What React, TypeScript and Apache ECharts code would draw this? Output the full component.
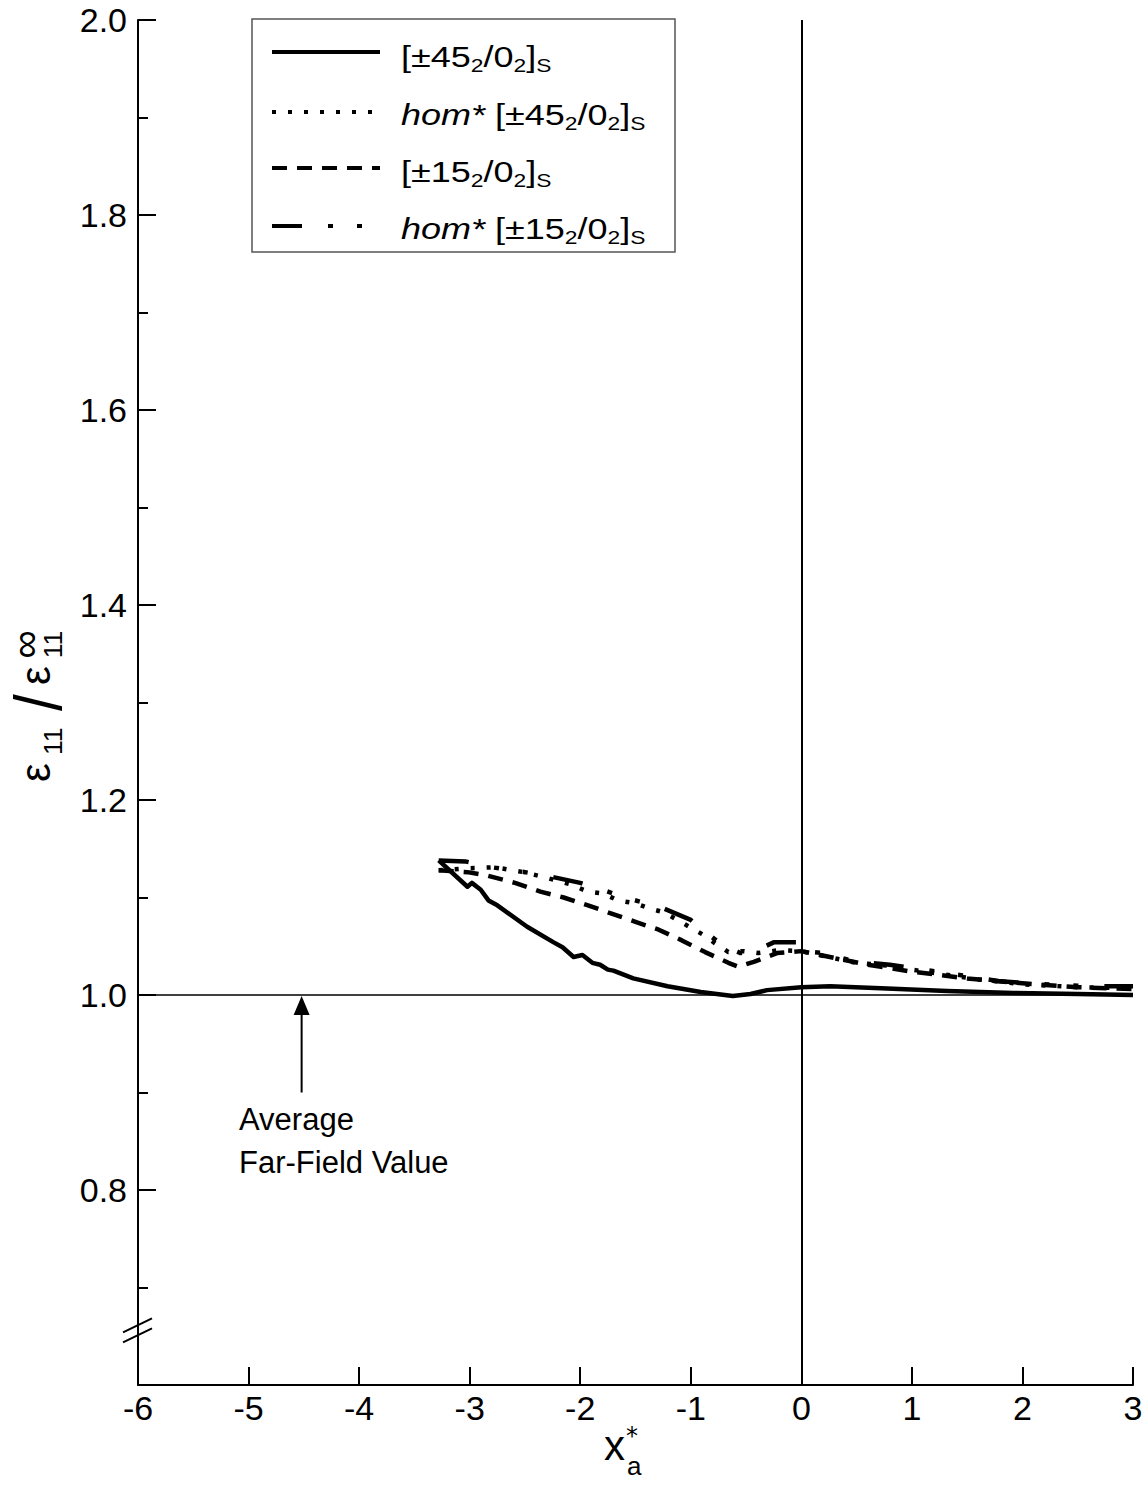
import React, { useEffect, useRef } from "react";
import * as echarts from "echarts";

// Axis ranges and ticks
const X_MIN = -6;
const X_MAX = 3;
const X_STEP = 1;
const Y_MIN = 0.6;
const Y_MAX = 2.0;
const Y_STEP = 0.2;

// [±45₂/0₂]S laminate
const lam45X = [-3.28, -3.02, -2.98, -2.9, -2.83, -2.75, -2.48, -2.24, -2.16, -2.06, -1.98, -1.89, -1.82, -1.75, -1.7, -1.52, -1.21, -0.91, -0.62, -0.46, -0.31, 0, 0.26, 0.72, 1.32, 1.92, 2.5, 3.0];
const lam45Y = [1.138, 1.111, 1.115, 1.108, 1.097, 1.092, 1.07, 1.054, 1.049, 1.039, 1.041, 1.033, 1.031, 1.026, 1.025, 1.017, 1.009, 1.003, 0.999, 1.001, 1.005, 1.008, 1.009, 1.007, 1.004, 1.002, 1.001, 1.0];

// hom* [±45₂/0₂]S
const hom45X = [-3.28, -3.0, -2.77, -2.51, -2.3, -2.1, -1.93, -1.79, -1.66, -1.5, -1.38, -1.25, -1.12, -1.0, -0.89, -0.78, -0.66, -0.52, -0.39, -0.2, 0, 0.2, 0.5, 0.8, 1.0, 1.3, 1.6, 2.0, 2.5, 3.0];
const hom45Y = [1.128, 1.13, 1.131, 1.126, 1.12, 1.114, 1.106, 1.104, 1.097, 1.094, 1.089, 1.085, 1.077, 1.069, 1.062, 1.053, 1.044, 1.045, 1.043, 1.046, 1.045, 1.04, 1.033, 1.03, 1.026, 1.021, 1.016, 1.011, 1.008, 1.007];

// [±15₂/0₂]S laminate
const lam15X = [-3.28, -3.02, -2.86, -2.59, -2.36, -2.15, -1.93, -1.73, -1.5, -1.29, -1.08, -0.87, -0.66, -0.57, -0.43, -0.22, 0, 0.3, 0.6, 1.0, 1.5, 2.0, 2.5, 3.0];
const lam15Y = [1.128, 1.126, 1.123, 1.115, 1.106, 1.1, 1.092, 1.084, 1.075, 1.067, 1.056, 1.044, 1.033, 1.029, 1.034, 1.043, 1.045, 1.038, 1.031, 1.024, 1.017, 1.012, 1.008, 1.006];

// hom* [±15₂/0₂]S
const hom15X = [-3.28, -3.04, -2.8, -2.5, -2.25, -2.0, -1.8, -1.6, -1.4, -1.25, -1.0, -0.85, -0.7, -0.55, -0.4, -0.25, -0.01, 0.01, 0.2, 0.5, 0.8, 1.1, 1.4, 1.8, 2.2, 2.6, 3.0];
const hom15Y = [1.138, 1.137, 1.131, 1.126, 1.121, 1.115, 1.108, 1.1, 1.094, 1.089, 1.077, 1.063, 1.05, 1.043, 1.046, 1.054, 1.054, 1.045, 1.043, 1.034, 1.031, 1.026, 1.021, 1.014, 1.011, 1.009, 1.009];

// Reference levels and annotation
const farFieldValue = 1.0;
const originX = 0;
const arrowX = -4.52;
const arrowTailY = 0.9;
const breakY = 0.656;
const annotationLines = ["Average", "Far-Field Value"];

const FONT = '"Liberation Sans", Arial, Helvetica, sans-serif';
const FONT_WIDE = '"DejaVu Sans", sans-serif';

const seriesDefs = [
  { name: "lam45", xs: lam45X, ys: lam45Y, dash: null as number[] | null, prefix: "", lay: "45" },
  { name: "hom45", xs: hom45X, ys: hom45Y, dash: [4, 12], prefix: "hom* ", lay: "45" },
  { name: "lam15", xs: lam15X, ys: lam15Y, dash: [15, 10], prefix: "", lay: "15" },
  { name: "hom15", xs: hom15X, ys: hom15Y, dash: [30, 26, 5, 24, 5, 26], prefix: "hom* ", lay: "15" },
];

const zip = (xs: number[], ys: number[]) => xs.map((x, i) => [x, ys[i]]);

function legendRich(prefix: string, lay: string) {
  const head = prefix ? "{i|" + prefix + "}" : "";
  return head + "{m|[±" + lay + "}{s|2}{m|/0}{s|2}{m|]}{s|S}";
}

export default function App() {
  const ref = useRef<HTMLDivElement>(null);

  useEffect(() => {
    if (!ref.current) return;
    const chart = echarts.init(ref.current, null, { renderer: "svg" });

    const series: any[] = seriesDefs.map((d, idx) => ({
      name: d.name,
      type: "line",
      data: zip(d.xs, d.ys),
      showSymbol: false,
      symbol: "none",
      silent: true,
      z: 3,
      lineStyle: {
        color: "#000",
        width: 4.5,
        type: d.dash ? d.dash : "solid",
        cap: "butt",
        join: "round",
      },
      markLine:
        idx === 0
          ? {
              silent: true,
              symbol: ["none", "none"],
              label: { show: false },
              animation: false,
              data: [
                { xAxis: originX, lineStyle: { color: "#000", width: 2, type: "solid" } },
                { yAxis: farFieldValue, lineStyle: { color: "#000", width: 1.5, type: "solid" } },
              ],
            }
          : undefined,
    }));

    chart.setOption({
      animation: false,
      backgroundColor: "#fff",
      textStyle: { fontFamily: FONT },
      grid: { left: 138, right: 15, top: 20, bottom: 103, containLabel: false },
      xAxis: {
        type: "value",
        min: X_MIN,
        max: X_MAX,
        interval: X_STEP,
        axisLine: { show: true, onZero: false, lineStyle: { color: "#000", width: 2 } },
        axisTick: { show: true, inside: true, length: 18, lineStyle: { color: "#000", width: 2 } },
        axisLabel: {
          color: "#000",
          fontSize: 34,
          lineHeight: 34,
          fontFamily: FONT,
          margin: 6,
          formatter: (v: number) => String(Math.round(v)),
        },
        splitLine: { show: false },
      },
      yAxis: {
        type: "value",
        min: Y_MIN,
        max: Y_MAX,
        interval: Y_STEP,
        axisLine: { show: true, onZero: false, lineStyle: { color: "#000", width: 2 } },
        axisTick: { show: true, inside: true, length: 18, lineStyle: { color: "#000", width: 2 } },
        minorTick: { show: true, splitNumber: 2, length: 10, lineStyle: { color: "#000", width: 2 } },
        axisLabel: {
          color: "#000",
          fontSize: 34,
          fontFamily: FONT,
          margin: 11,
          formatter: (v: number) => (v < Y_MIN + 0.05 ? "" : v.toFixed(1)),
        },
        splitLine: { show: false },
        minorSplitLine: { show: false },
      },
      series,
    });

    const px = (x: number, y: number) => chart.convertToPixel({ gridIndex: 0 }, [x, y]) as number[];

    // Legend box
    const legendLeft = 252;
    const legendTop = 19;
    const rowLineY = [52, 112, 168, 226];
    const rowTextY = [57, 115, 172, 229];
    const legendChildren: any[] = [
      {
        type: "rect",
        shape: { x: legendLeft, y: legendTop, width: 423, height: 233 },
        style: { fill: "#fff", stroke: "#555", lineWidth: 1.5 },
      },
    ];
    seriesDefs.forEach((d, i) => {
      legendChildren.push({
        type: "line",
        shape: { x1: 272, y1: rowLineY[i], x2: 380, y2: rowLineY[i] },
        style: { stroke: "#000", lineWidth: 4, lineDash: d.dash || undefined, lineCap: "butt" },
      });
      legendChildren.push({
        type: "text",
        x: 401,
        y: rowTextY[i],
        scaleX: 1.2,
        style: {
          text: legendRich(d.prefix, d.lay),
          align: "left",
          verticalAlign: "middle",
          textAlign: "left",
          textVerticalAlign: "middle",
          fill: "#000",
          rich: {
            m: { fontSize: 30, fontFamily: FONT, lineHeight: 36, fill: "#000" },
            i: { fontSize: 30, fontFamily: FONT, fontStyle: "italic", lineHeight: 36, fill: "#000" },
            s: { fontSize: 19, fontFamily: FONT, lineHeight: 24, verticalAlign: "bottom", fill: "#000" },
          },
        },
      });
    });

    const txt = (text: string, x: number, y: number, fontSize: number, extra: any = {}, el: any = {}) => ({
      type: "text",
      x,
      y,
      ...el,
      style: {
        text,
        fontSize,
        fontFamily: FONT,
        fill: "#000",
        align: "left",
        verticalAlign: "middle",
        textAlign: "left",
        textVerticalAlign: "middle",
        ...extra,
      },
    });

    // Stacked superscript over subscript, one text block
    const stack = (sup: string, sub: string, x: number, y: number, supSize: number, subSize: number, lh: number) =>
      txt("{p|" + sup + "}\n{b|" + sub + "}", x, y, subSize, {
        align: "center",
        textAlign: "center",
        rich: {
          p: { fontSize: supSize, fontFamily: FONT, lineHeight: lh, fill: "#000" },
          b: { fontSize: subSize, fontFamily: FONT, lineHeight: lh, fill: "#000" },
        },
      });

    // Y axis title: ε11 / ε∞11 written bottom to top
    const yTitle = {
      type: "group",
      x: 0,
      y: 782,
      rotation: Math.PI / 2,
      children: [
        txt("ε", 0, 35, 42),
        txt("11", 27, 52.5, 26.5),
        txt("/", 71, 37.5, 50, {}, { scaleY: 1.35, scaleX: 1.2 }),
        txt("ε", 97, 35, 42),
        stack("∞", "11", 137.5, 39, 40, 26.5, 27.5),
      ],
    };

    // X axis title: x with * raised and a lowered
    const xTitle = {
      type: "group",
      children: [
        txt("x", 604, 1445.5, 42),
        txt("*", 626, 1436.2, 24, { fontFamily: FONT_WIDE }),
        txt("a", 627, 1466, 26),
      ],
    };

    // Far-field annotation arrow
    const tip = px(arrowX, farFieldValue);
    const tail = px(arrowX, arrowTailY);
    const arrow = {
      type: "group",
      children: [
        {
          type: "line",
          shape: { x1: tail[0], y1: tail[1], x2: tip[0], y2: tip[1] + 18 },
          style: { stroke: "#000", lineWidth: 2 },
        },
        {
          type: "polygon",
          shape: {
            points: [
              [tip[0], tip[1] + 1],
              [tip[0] - 8, tip[1] + 20],
              [tip[0] + 8, tip[1] + 20],
            ],
          },
          style: { fill: "#000" },
        },
        ...annotationLines.map((line, i) => txt(line, 239, 1119 + i * 43, 31)),
      ],
    };

    // Axis break marks on the y axis
    const bp = px(X_MIN, breakY);
    const breakMarks = {
      type: "group",
      children: [-5, 5].map((dy) => ({
        type: "line",
        shape: { x1: bp[0] - 15, y1: bp[1] + dy + 7, x2: bp[0] + 14, y2: bp[1] + dy - 7 },
        style: { stroke: "#000", lineWidth: 2 },
      })),
    };

    chart.setOption({
      graphic: [
        { type: "group", children: legendChildren },
        yTitle,
        xTitle,
        arrow,
        breakMarks,
      ],
    });

    return () => chart.dispose();
  }, []);

  return (
    <div
      ref={ref}
      style={{ position: "fixed", left: 0, top: 0, width: 1148, height: 1488, background: "#fff" }}
    />
  );
}
